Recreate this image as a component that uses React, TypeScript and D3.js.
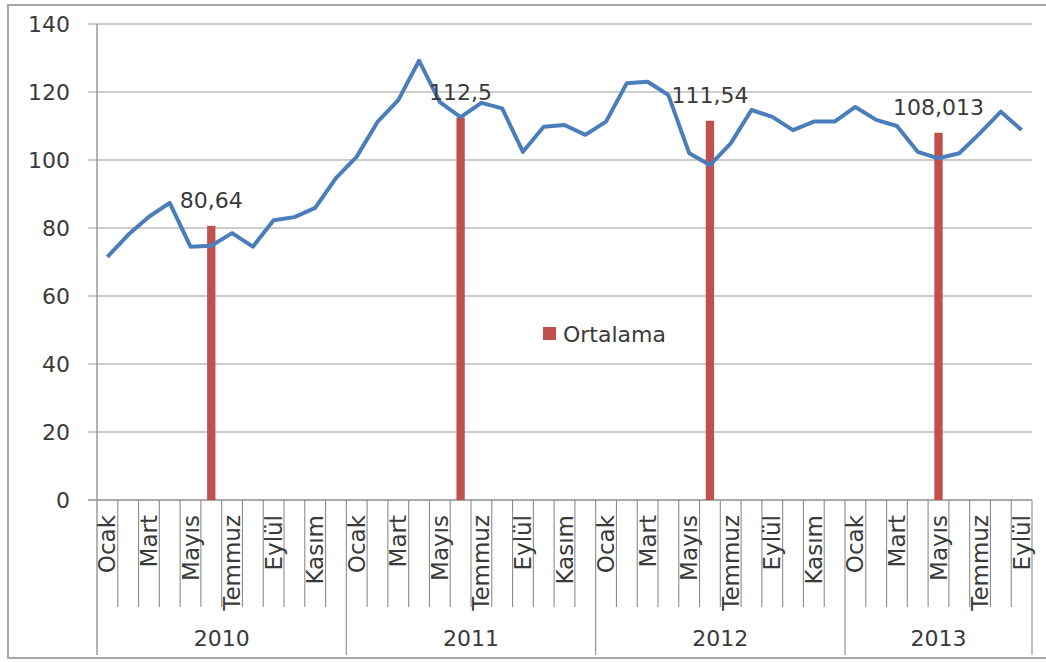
import * as d3 from "d3";

// chart data
const years = ["2010", "2011", "2012", "2013"];
const monthNames = ["Ocak", "Şubat", "Mart", "Nisan", "Mayıs", "Haziran", "Temmuz", "Ağustos", "Eylül", "Ekim", "Kasım", "Aralık"];
const monthsPerYear = [12, 12, 12, 9];
const values = [
  71.5, 78, 83.3, 87.4, 74.5, 74.8, 78.5, 74.5, 82.3, 83.2, 85.9, 94.7,
  101, 111.2, 117.6, 129.2, 117, 112.6, 116.8, 115.2, 102.4, 109.8, 110.3, 107.4,
  111.3, 122.6, 123, 119.1, 102, 98.5, 104.9, 114.7, 112.7, 108.8, 111.3, 111.3,
  115.6, 111.8, 110, 102.4, 100.5, 102, 107.9, 114.2, 108.8,
];
const averages = [80.64, 112.5, 111.54, 108.013];
const averageLabels = ["80,64", "112,5", "111,54", "108,013"];
const averageMonth = ["Haziran", "Haziran", "Haziran", "Mayıs"];
const yTicks = [0, 20, 40, 60, 80, 100, 120, 140];

type Cat = { key: string; year: string; month: string; m: number };
const cats: Cat[] = [];
years.forEach((yr, yi) => {
  for (let m = 0; m < monthsPerYear[yi]; m++) {
    cats.push({ key: `${yr}-${monthNames[m]}`, year: yr, month: monthNames[m], m });
  }
});

const font = "DejaVu Sans";
const textColor = "#3a3a3a";
const blue = "#4a7ebb";
const red = "#c0504d";

export default function App() {
  const left = 97, right = 1032, top = 24, bottom = 500;
  const x = d3.scaleBand<string>().domain(cats.map((c) => c.key)).range([left, right]).padding(0);
  const y = d3.scaleLinear().domain([0, 140]).range([bottom, top]);
  const bw = x.bandwidth();
  const cx = (k: string) => (x(k) as number) + bw / 2;

  const line = d3
    .line<number>()
    .x((_, i) => cx(cats[i].key))
    .y((d) => y(d));

  // year boundaries
  const yearStarts: number[] = [];
  let acc = 0;
  monthsPerYear.forEach((n) => {
    yearStarts.push(acc);
    acc += n;
  });

  const barW = bw * 0.4;

  return (
    <svg width={1046} height={662} style={{ position: "absolute", left: 0, top: 0, background: "#fff" }}>
      <rect x={8} y={5} width={1060} height={653} fill="#fff" stroke="#a6a6a6" strokeWidth={2} />

      {/* gridlines and y ticks */}
      {yTicks.map((t) => (
        <g key={t}>
          <line x1={left - 9} x2={right} y1={y(t)} y2={y(t)} stroke={t === 0 ? "#8c8c8c" : "#bdbdbd"} strokeWidth={1.3} />
          <text x={70} y={y(t)} textAnchor="end" dominantBaseline="central" fontFamily={font} fontSize={22} fill={textColor}>
            {t}
          </text>
        </g>
      ))}
      <line x1={left} x2={left} y1={top} y2={655} stroke="#8c8c8c" strokeWidth={1.3} />

      {/* month tick lines */}
      {cats.map((c, i) =>
        i === 0 ? null : (
          <line key={c.key} x1={x(c.key)} x2={x(c.key)} y1={bottom} y2={c.m === 0 ? 655 : 607} stroke="#8c8c8c" strokeWidth={1.1} />
        )
      )}
      <line x1={right} x2={right} y1={bottom} y2={655} stroke="#8c8c8c" strokeWidth={1.1} />

      {/* month labels */}
      {cats.map((c) =>
        c.m % 2 === 0 ? (
          <text
            key={"l" + c.key}
            transform={`translate(${cx(c.key)},${bottom + 15}) rotate(-90)`}
            textAnchor="end"
            dominantBaseline="central"
            fontFamily={font}
            fontSize={23}
            fill={textColor}
          >
            {c.month}
          </text>
        ) : null
      )}

      {/* year labels */}
      {years.map((yr, yi) => {
        const s = x(cats[yearStarts[yi]].key) as number;
        const e = s + monthsPerYear[yi] * bw;
        return (
          <text key={yr} x={(s + e) / 2} y={638} textAnchor="middle" dominantBaseline="central" fontFamily={font} fontSize={22} fill={textColor}>
            {yr}
          </text>
        );
      })}

      {/* average bars */}
      {years.map((yr, yi) => {
        const k = `${yr}-${averageMonth[yi]}`;
        return (
          <g key={"b" + yr}>
            <rect x={cx(k) - barW / 2} y={y(averages[yi])} width={barW} height={bottom - y(averages[yi])} fill={red} />
          </g>
        );
      })}

      {/* line */}
      <path d={line(values) as string} fill="none" stroke={blue} strokeWidth={4} strokeLinejoin="round" />

      {/* data labels */}
      {years.map((yr, yi) => {
        const k = `${yr}-${averageMonth[yi]}`;
        return (
          <text key={"d" + yr} x={cx(k)} y={y(averages[yi]) - 25} textAnchor="middle" dominantBaseline="central" fontFamily={font} fontSize={22} fill={textColor}>
            {averageLabels[yi]}
          </text>
        );
      })}

      {/* legend */}
      <rect x={543} y={327} width={13} height={13} fill={red} />
      <text x={563} y={334} dominantBaseline="central" fontFamily={font} fontSize={22} fill={textColor}>
        Ortalama
      </text>
    </svg>
  );
}
